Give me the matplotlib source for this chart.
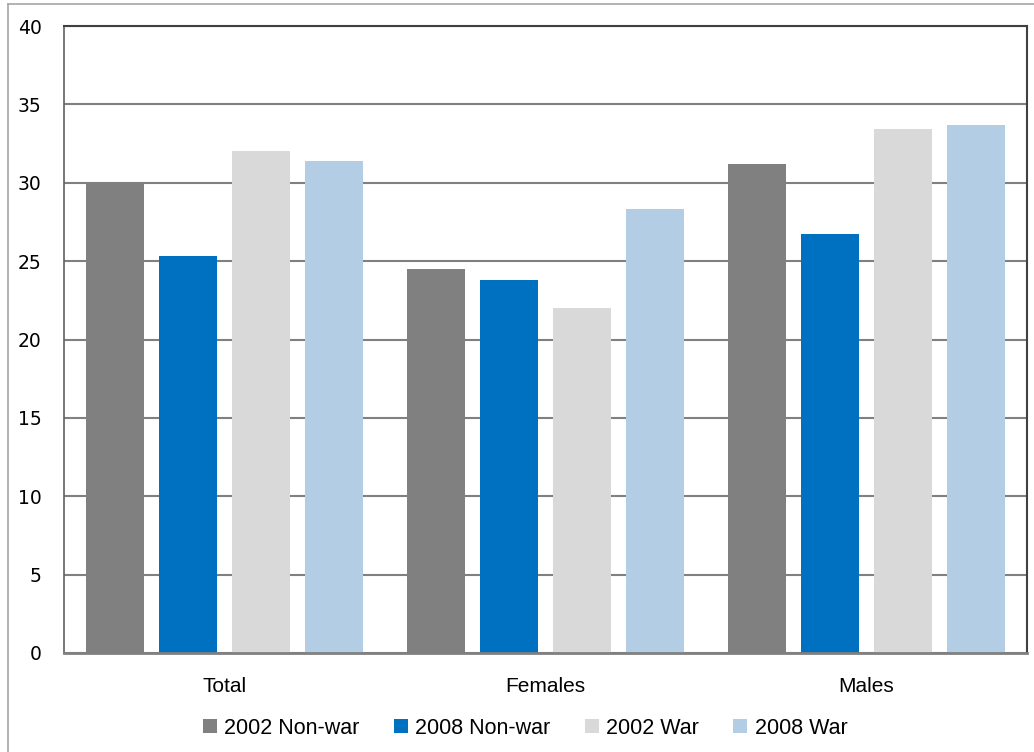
import numpy as np
import matplotlib
matplotlib.use("Agg")
from matplotlib import pyplot as plt

# values
groups = ["Total", "Females", "Males"]
series = ["2002 Non-war", "2008 Non-war", "2002 War", "2008 War"]
nonwar_2002 = [29.9, 24.5, 31.2]
nonwar_2008 = [25.3, 23.8, 26.7]
war_2002 = [32.0, 22.0, 33.4]
war_2008 = [31.4, 28.3, 33.7]
colors = ["#808080", "#0070C0", "#D9D9D9", "#B3CDE5"]
yticks = [0, 5, 10, 15, 20, 25, 30, 35, 40]

plt.rcParams['font.family'] = ['Liberation Sans', 'DejaVu Sans']

fig = plt.figure(figsize=(10.34, 7.52), dpi=100)
ax = fig.add_axes([64/1034, 1-653/752, (1027-64)/1034, (653-26)/752])

# outer chart-area border (top and left only visible)
fig.add_artist(plt.Line2D([8/1034, 8/1034], [0, 1-4/752], transform=fig.transFigure,
                          color="#A6A6A6", lw=1.2))
fig.add_artist(plt.Line2D([8/1034, 1], [1-4/752, 1-4/752], transform=fig.transFigure,
                          color="#A6A6A6", lw=1.2))

x = np.arange(len(groups))
pitch = 73/321
width = 58/321
all_vals = [nonwar_2002, nonwar_2008, war_2002, war_2008]
for i, (vals, name, c) in enumerate(zip(all_vals, series, colors)):
    ax.bar(x + (i - 1.5)*pitch, vals, width, color=c, label=name, zorder=3)

ax.set_xlim(-0.5, 2.5)
ax.set_ylim(0, 40)
ax.set_yticks(yticks)
ax.set_yticklabels([str(t) for t in yticks])
for lab in ax.get_yticklabels():
    lab.set_fontfamily('DejaVu Sans')
    lab.set_fontsize(13.5)
ax.set_xticks(x)
ax.set_xticklabels(groups, fontsize=15)
ax.tick_params(axis='both', length=0)
ax.tick_params(axis='y', pad=16)
ax.tick_params(axis='x', pad=17)
ax.yaxis.grid(True, color="#808080", lw=1.5, zorder=0)
ax.set_axisbelow(True)

ax.spines['top'].set_color("#404040")
ax.spines['right'].set_color("#404040")
ax.spines['left'].set_color("#606060")
ax.spines['bottom'].set_color("#808080")
ax.spines['top'].set_linewidth(1.5)
ax.spines['right'].set_linewidth(1.5)
ax.spines['left'].set_linewidth(1.2)
ax.spines['bottom'].set_linewidth(2)
ax.spines['bottom'].set_zorder(4)

fig.legend(loc='center', bbox_to_anchor=(0.508, 1-728/752), ncol=4, frameon=False,
           fontsize=15.5, handlelength=0.65, handleheight=0.65, handletextpad=0.33,
           columnspacing=1.6, borderpad=0, borderaxespad=0)

fig.savefig("out.png", dpi=100)
